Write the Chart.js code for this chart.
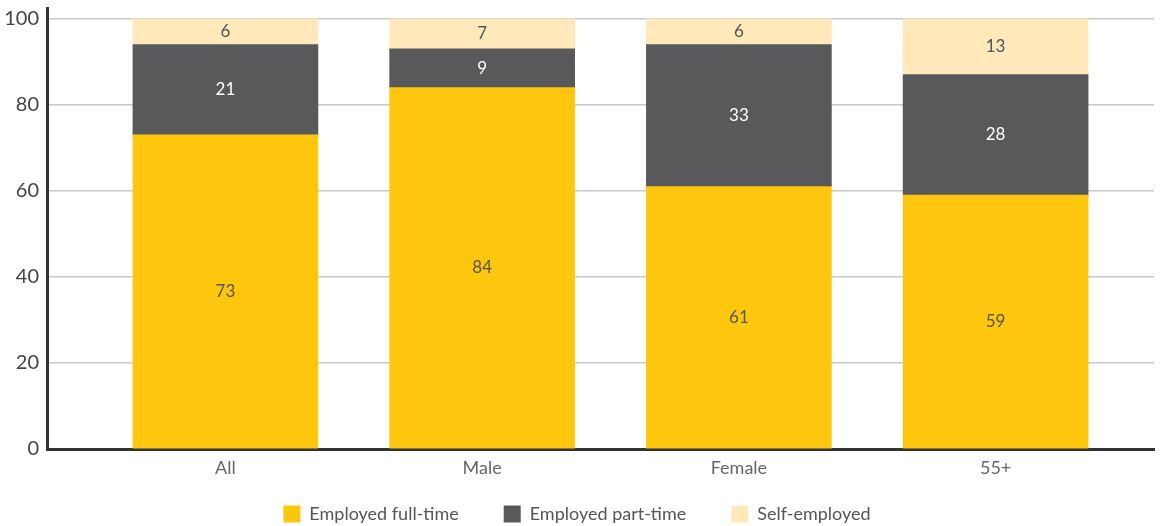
<!DOCTYPE html>
<html>
<head>
<meta charset="utf-8">
<script src="https://cdn.jsdelivr.net/npm/chart.js@4/dist/chart.umd.min.js"></script>
<style>
  html, body { margin: 0; padding: 0; background: #ffffff; }
  #wrap { width: 1161px; height: 526px; position: relative; }
</style>
</head>
<body>
<div id="wrap"><canvas id="chart"></canvas></div>
<script>
// Employment status by group (% of respondents)
const categories = ['All', 'Male', 'Female', '55+'];
const fullTime = [73, 84, 61, 59];
const partTime = [21, 9, 33, 28];
const selfEmployed = [6, 7, 6, 13];
const yTicks = [0, 20, 40, 60, 80, 100];

const seriesNames = ['Employed full-time', 'Employed part-time', 'Self-employed'];
const seriesColors = ['#FEC70D', '#58595B', '#FFE9BB'];
const labelColors = ['#555555', '#ffffff', '#555555'];

const FONT = 'Lato, "Open Sans", sans-serif';

function toPoints(values) {
  return values.map((v, i) => ({ x: i, y: v }));
}

// Writes each segment's value in the middle of its bar segment
const segmentLabels = {
  id: 'segmentLabels',
  afterDatasetsDraw(chart) {
    const ctx = chart.ctx;
    ctx.save();
    ctx.font = '17px ' + FONT;
    ctx.textAlign = 'center';
    ctx.textBaseline = 'middle';
    chart.data.datasets.forEach((ds, di) => {
      const meta = chart.getDatasetMeta(di);
      meta.data.forEach((bar, i) => {
        const y = (bar.y + bar.base) / 2;
        ctx.fillStyle = labelColors[di];
        ctx.fillText(String(ds.data[i].y), bar.x, y);
      });
    });
    ctx.restore();
  }
};

// Keeps the wide legend spacing horizontally while taking no vertical room
// in the layout; the legend row is then drawn just above the canvas bottom.
const LEGEND_SHIFT = -66;
const compactLegend = {
  id: 'compactLegend',
  beforeLayout(chart) {
    const legend = chart.legend;
    if (!legend || legend._compact) return;
    legend._compact = true;
    const fit = legend.fit.bind(legend);
    legend.fit = function () {
      fit();
      this.height = 0;
    };
    legend.draw = function () {
      const ctx = this.ctx;
      ctx.save();
      ctx.translate(0, LEGEND_SHIFT);
      this._draw();
      ctx.restore();
    };
  }
};

new Chart(document.getElementById('chart'), {
  type: 'bar',
  data: {
    datasets: [
      { label: seriesNames[0], data: toPoints(fullTime), backgroundColor: seriesColors[0] },
      { label: seriesNames[1], data: toPoints(partTime), backgroundColor: seriesColors[1] },
      { label: seriesNames[2], data: toPoints(selfEmployed), backgroundColor: seriesColors[2] }
    ]
  },
  options: {
    responsive: true,
    maintainAspectRatio: false,
    animation: false,
    layout: { padding: { top: 8, right: 7, left: 0, bottom: 0 } },
    datasets: { bar: { barThickness: 185, borderWidth: 0 } },
    scales: {
      x: {
        type: 'linear',
        stacked: true,
        offset: false,
        min: -0.695,
        max: 3.617,
        afterBuildTicks(scale) {
          scale.ticks = categories.map((_, i) => ({ value: i }));
        },
        afterFit(scale) {
          scale.height = 77;
          scale.paddingLeft = 0;
          scale.paddingRight = 0;
        },
        ticks: {
          autoSkip: false,
          maxRotation: 0,
          padding: 8,
          color: '#666666',
          font: { family: FONT, size: 18 },
          callback: (v) => categories[v]
        },
        grid: { display: false, drawTicks: false, offset: false },
        border: { display: true, color: '#333333', width: 3 }
      },
      y: {
        stacked: true,
        min: 0,
        max: 102.5,
        afterBuildTicks(scale) {
          scale.ticks = yTicks.map(v => ({ value: v }));
        },
        afterFit(scale) {
          scale.width = 47;
          scale.paddingTop = 0;
          scale.paddingBottom = 0;
        },
        ticks: {
          padding: 8,
          color: '#444444',
          font: { family: FONT, size: 20 }
        },
        grid: { color: '#c8c8c8', lineWidth: 1.5, drawTicks: false },
        border: { display: true, color: '#333333', width: 3 }
      }
    },
    plugins: {
      legend: {
        position: 'bottom',
        labels: {
          boxWidth: 17,
          boxHeight: 17,
          padding: 45,
          color: '#555555',
          font: { family: FONT, size: 18 }
        }
      },
      tooltip: { enabled: false }
    }
  },
  plugins: [segmentLabels, compactLegend]
});
</script>
</body>
</html>
